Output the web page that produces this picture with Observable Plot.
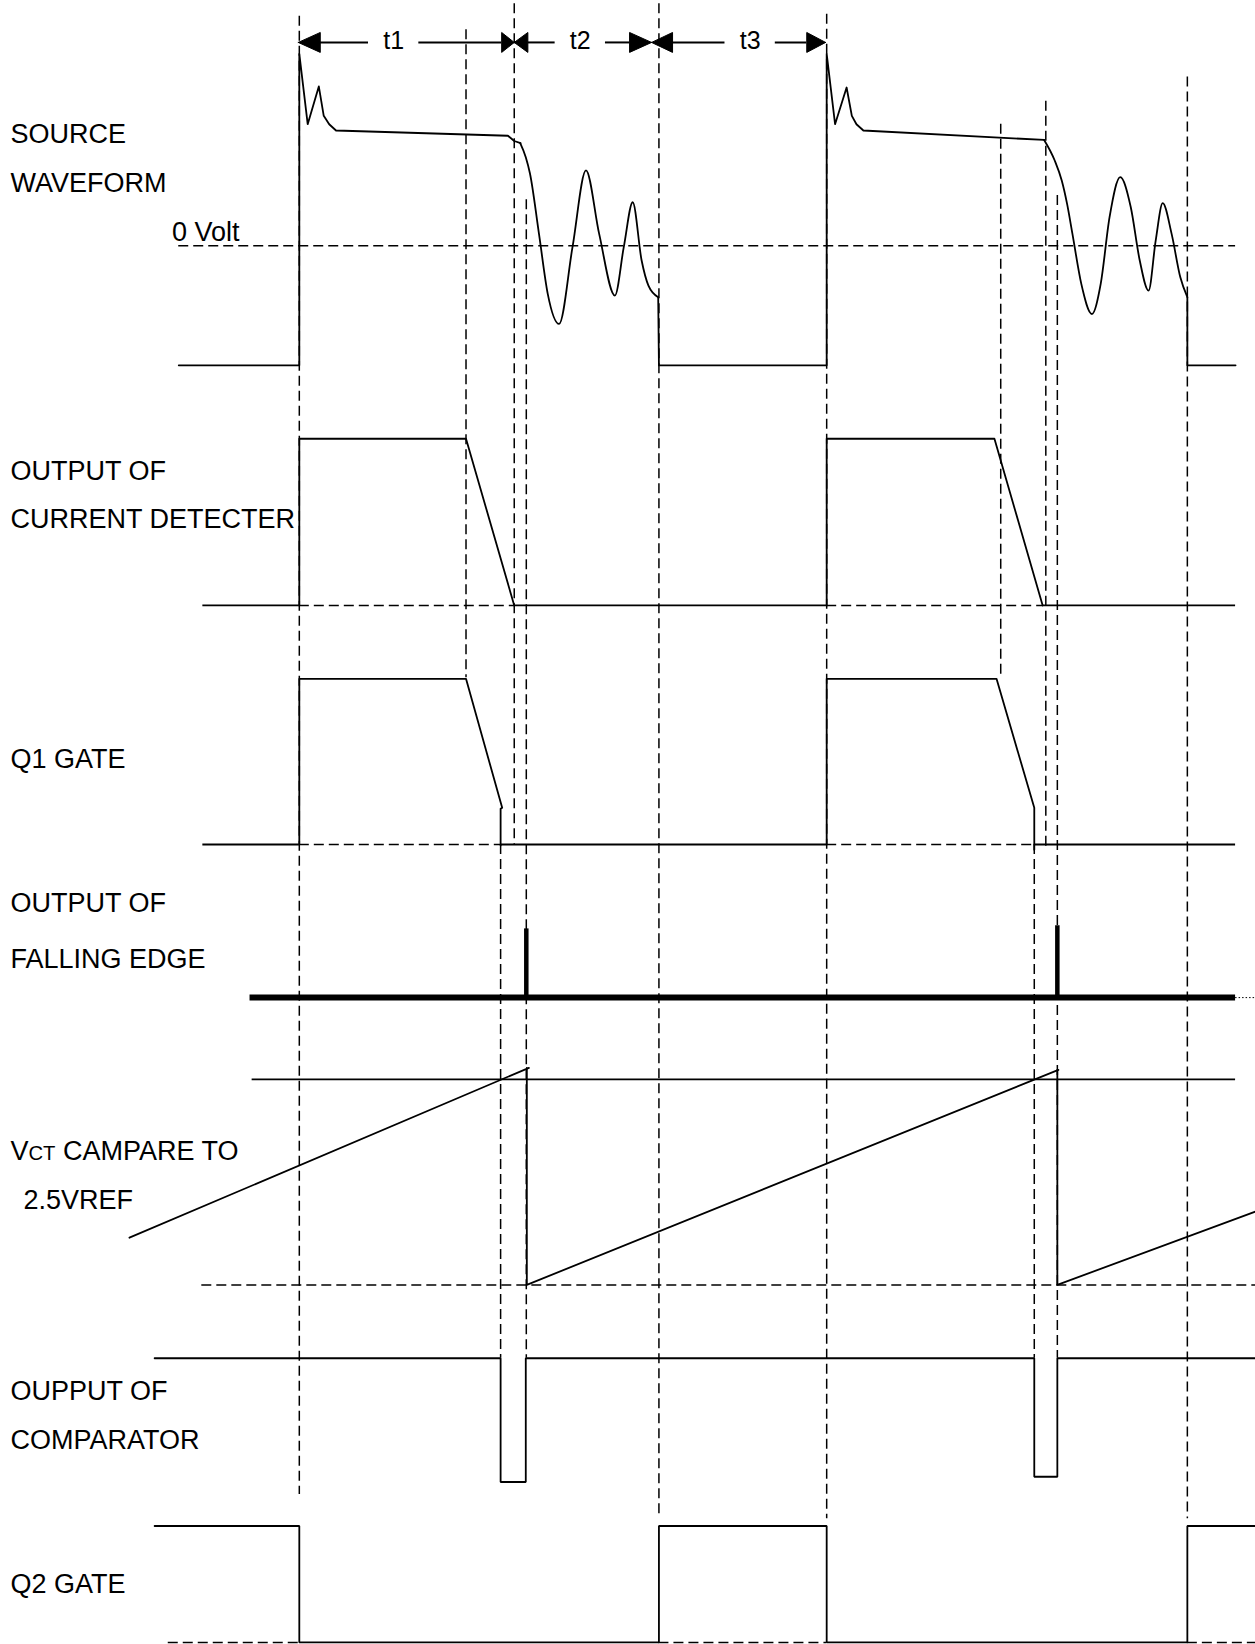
<!DOCTYPE html>
<html><head><meta charset="utf-8">
<script src="https://cdn.jsdelivr.net/npm/d3@7"></script>
<script src="https://cdn.jsdelivr.net/npm/@observablehq/plot@0.6"></script>
<style>html,body{margin:0;padding:0;background:#fff}#chart svg{display:block}</style>
</head><body><div id="chart"></div><script>
// ---- diagram data (time along x, level down the page along y, in diagram units) ----
// Source waveform: straight pieces and ringing pieces
const sourceSteps = [
  [[170,348],[285,348],[285,51],[293,118],[303.6,82],[308.3,110],[313.5,118],[320,124],[484,129],[490,134],[496,136]],
  [[627.3,283],[628,348],[788,348],[788,51],[796,118],[807,83],[812,110],[816.4,118],[823,124],[995.4,133]],
  [[1132,283],[1132,348],[1178,348]]
];
const sourceRinging = [
  [[495.7,136],[501,149.5],[505,165],[513.6,222.6],[522,280],[532.8,308.5],[545.6,235],[558.4,162],[571,222.6],[586,281.4],[594.5,235],[603,192.4],[611.5,248],[618,272],[627.3,283]],
  [[995.4,133],[1005.5,152.6],[1012.2,171.7],[1017.3,194],[1022.4,222.6],[1030.8,270],[1041,299],[1049.4,270],[1057.8,206.7],[1068,168.5],[1078,197],[1086.6,248],[1095,276.7],[1101.8,229],[1108.5,193.3],[1117,222.6],[1125.3,264],[1132,283]]
];
const currentDetector = [
  [[285,577],[285,418],[444,418],[490,577]],
  [[788,577],[788,418],[948,418],[994,577]]
];
const q1Gate = [
  [[285,805],[285,647],[444,647],[478.5,770],[477,771],[477,806]],
  [[788,805],[788,647],[950,647],[986,770],[986,810]]
];
const fallingSpikes = [
  [[501.5,951],[501.5,885]],
  [[1008,951],[1008,882]]
];
const vctRamp = [
  [[123,1180],[504,1018]],
  [[502,1018],[502,1225],[1009,1020]],
  [[1008,1020],[1008,1225],[1197,1155]]
];
const comparatorOut = [
  [[147,1295],[477,1295],[477,1413],[501,1413],[501,1295],[986,1295],[986,1408],[1008,1408],[1008,1295],[1197,1295]]
];
const q2Gate = [
  [[147,1455],[285,1455],[285,1566],[628,1566],[628,1455],[788,1455],[788,1566],[1132,1566],[1132,1455],[1197,1455]]
];
// solid horizontal levels [level, from, to]
const solidLevels = [
  [577,193,285],[577,490,788],[577,994,1178],
  [805,193,285],[805,477,788],[805,986,1178],
  [1029,240,1178]
];
const thickLevels = [[951,238,1178]];
const dottedLevels = [[951,1178,1197]];
// dashed horizontal levels [level, from, to]
const dashedLevels = [
  [234,170,1178],
  [577,285,490],[577,788,994],
  [805,285,477],[805,788,986],
  [1225,192,1197],
  [1566,160,285],[1566,628,788],[1566,1132,1197]
];
// dashed vertical timing markers [time, from, to]
const dashedMarkers = [
  [285,15,1425],[444,28,646],[490,3,805],[501.5,190,1295],[477,805,1295],[628,3,1448],
  [788,13,1448],[954,118,645],[997,96,808],[1008,186,1295],[986,805,1295],[1132,73,1448]
];
// interval arrows
const spanLabels = ["t1","t2","t3"];
const spanFrom = [284,490,621];
const spanTo = [490,621,787];
const spanLabelAt = [375,553,715];
const headFromLen = [21,13,20];
const headToLen = [12,21,18];
const arrowLevel = 40;
// row labels
const rowLabelText = ["SOURCE","WAVEFORM","OUTPUT OF","CURRENT DETECTER","Q1 GATE","OUTPUT OF","FALLING EDGE","VCT CAMPARE TO","2.5VREF","OUPPUT OF","COMPARATOR","Q2 GATE"];
const rowLabelX = [9.5,9.5,9.5,9.5,9.5,9.5,9.5,9.5,22,9.5,9.5,9.5];
const rowLabelY = [128,174,449,495,724,861,915,1098,1144,1327,1373,1511];
const zeroVoltText = ["0 Volt"];
const zeroVoltPos = [[163.5,221]];

// ---- build tables for the marks ----
const flat = (paths) => paths.flatMap((p,i)=>p.map(([x,y])=>({x,y,id:i})));
const arrowLines = spanLabels.flatMap((s,i)=>[
  [arrowLevel, spanFrom[i]+headFromLen[i], spanLabelAt[i]-24],
  [arrowLevel, spanLabelAt[i]+24, spanTo[i]-headToLen[i]]
]);
const HH = 9.5;
const heads = spanLabels.flatMap((s,i)=>[
  [[spanFrom[i],arrowLevel],[spanFrom[i]+headFromLen[i],arrowLevel-HH],[spanFrom[i]+headFromLen[i],arrowLevel+HH],[spanFrom[i],arrowLevel]],
  [[spanTo[i],arrowLevel],[spanTo[i]-headToLen[i],arrowLevel-HH],[spanTo[i]-headToLen[i],arrowLevel+HH],[spanTo[i],arrowLevel]]
]);
const rowLabels = rowLabelText.map((t,i)=>({t,x:rowLabelX[i],y:rowLabelY[i]}));
const spanText = spanLabels.map((t,i)=>({t,x:spanLabelAt[i],y:arrowLevel-1.5}));

const FONT = "Liberation Sans, Arial, Helvetica, sans-serif";
const SW = 1.8;
const DASH = "10,5";

const chart = Plot.plot({
  width: 1255, height: 1644, margin: 0,
  x: {domain:[0,1197], range:[0,1255], axis:null},
  y: {domain:[0,1568], range:[0,1644], axis:null},
  style: {background:"white", fontFamily: FONT, color:"black"},
  marks: [
    Plot.ruleX(dashedMarkers, {x:d=>d[0], y1:d=>d[1], y2:d=>d[2], stroke:"black", strokeWidth:1.5, strokeDasharray:DASH}),
    Plot.ruleY(dashedLevels, {y:d=>d[0], x1:d=>d[1], x2:d=>d[2], stroke:"black", strokeWidth:1.5, strokeDasharray:DASH}),
    Plot.ruleY(solidLevels, {y:d=>d[0], x1:d=>d[1], x2:d=>d[2], stroke:"black", strokeWidth:SW}),
    Plot.ruleY(thickLevels, {y:d=>d[0], x1:d=>d[1], x2:d=>d[2], stroke:"black", strokeWidth:6}),
    Plot.ruleY(dottedLevels, {y:d=>d[0], x1:d=>d[1], x2:d=>d[2], stroke:"black", strokeWidth:1, strokeDasharray:"1.5,2"}),
    Plot.line(flat(sourceSteps), {x:"x", y:"y", z:"id", stroke:"black", strokeWidth:SW, curve:"linear"}),
    Plot.line(flat(sourceRinging), {x:"x", y:"y", z:"id", stroke:"black", strokeWidth:SW, curve:"monotone-x"}),
    Plot.line(flat(currentDetector), {x:"x", y:"y", z:"id", stroke:"black", strokeWidth:SW}),
    Plot.line(flat(q1Gate), {x:"x", y:"y", z:"id", stroke:"black", strokeWidth:SW}),
    Plot.line(flat(fallingSpikes), {x:"x", y:"y", z:"id", stroke:"black", strokeWidth:4.5, strokeLinecap:"butt"}),
    Plot.line(flat(vctRamp), {x:"x", y:"y", z:"id", stroke:"black", strokeWidth:SW}),
    Plot.line(flat(comparatorOut), {x:"x", y:"y", z:"id", stroke:"black", strokeWidth:SW, strokeLinejoin:"miter"}),
    Plot.line(flat(q2Gate), {x:"x", y:"y", z:"id", stroke:"black", strokeWidth:SW, strokeLinejoin:"miter"}),
    Plot.ruleY(arrowLines, {y:d=>d[0], x1:d=>d[1], x2:d=>d[2], stroke:"black", strokeWidth:2}),
    Plot.line(flat(heads), {x:"x", y:"y", z:"id", stroke:"black", fill:"black", strokeWidth:1, strokeLinejoin:"miter"}),
    Plot.text(spanText, {x:"x", y:"y", text:"t", fontSize:25, textAnchor:"middle", lineAnchor:"middle", fill:"black"}),
    Plot.text(rowLabels, {x:"x", y:"y", text:"t", fontSize:27, textAnchor:"start", lineAnchor:"middle", fill:"black"}),
    Plot.text(zeroVoltText, {x:()=>zeroVoltPos[0][0], y:()=>zeroVoltPos[0][1], text:d=>d, fontSize:27, textAnchor:"start", lineAnchor:"middle", fill:"black"})
  ]
});
document.getElementById("chart").appendChild(chart);
// small-caps style "CT" in VCT
d3.select(chart).selectAll("text").filter(function(){return this.textContent === "VCT CAMPARE TO";}).each(function(){
  const el = d3.select(this);
  el.text(null);
  el.append("tspan").text("V");
  el.append("tspan").attr("font-size","0.75em").text("CT");
  el.append("tspan").text(" CAMPARE TO");
});
</script></body></html>
